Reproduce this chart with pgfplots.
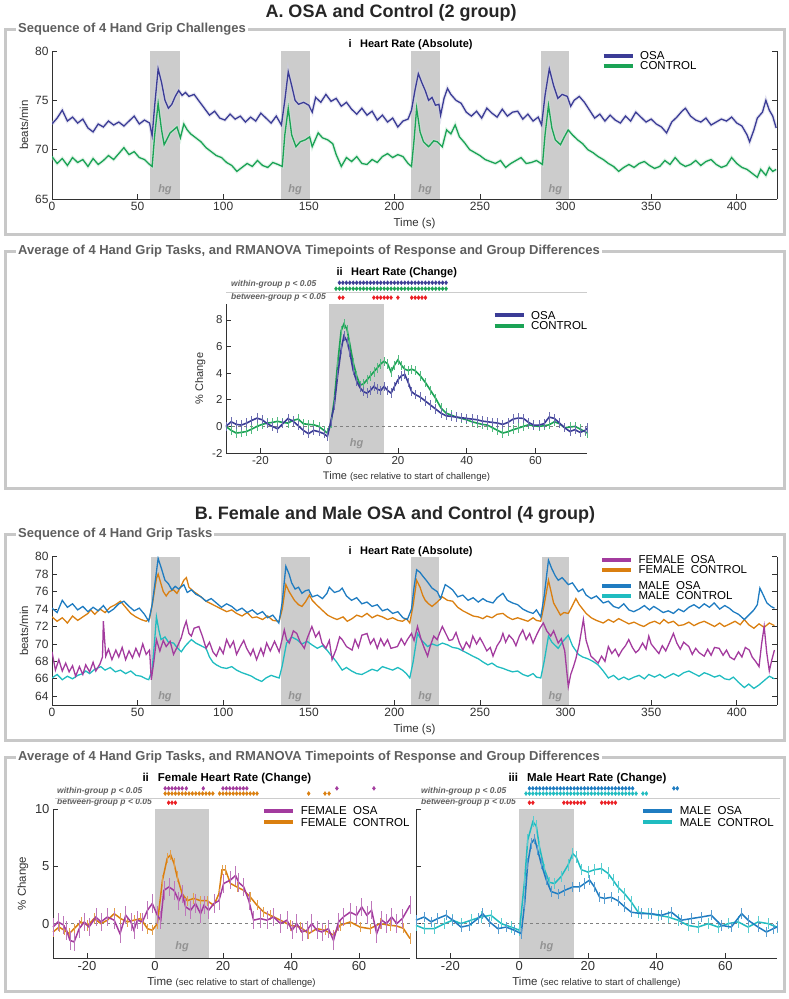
\documentclass[border=0pt]{standalone}
\usepackage{pgfplots}
\pgfplotsset{compat=1.18}
\usepackage{fontspec}
\setmainfont{Liberation Sans}
\definecolor{osa}{RGB}{59,60,150}
\definecolor{ctl}{RGB}{27,163,85}
\definecolor{fosa}{RGB}{163,59,158}
\definecolor{fctl}{RGB}{218,127,16}
\definecolor{mosa}{RGB}{31,124,193}
\definecolor{mctl}{RGB}{32,188,192}
\definecolor{sig}{RGB}{235,30,35}
\definecolor{framec}{RGB}{200,200,200}
\definecolor{hgbox}{RGB}{204,204,204}
\definecolor{axisc}{RGB}{50,50,50}
\definecolor{boxlab}{RGB}{95,95,95}
\tikzset{hgtxt/.style={font=\fontsize{11}{12}\selectfont\bfseries\itshape, text=gray!85}}
\pgfplotsset{
  base/.style={
    scale only axis, anchor=south west,
    axis line style={axisc, line width=0.8pt, -},
    tick style={axisc, line width=0.8pt},
    tick align=inside,
    major tick length=5pt,
    ticklabel style={text=axisc},
    /pgf/number format/assume math mode=true,
    legend cell align=left,
    legend style={draw=none, fill=none, inner sep=0pt, row sep=0pt, column sep=5pt, nodes={inner sep=0.5pt, text height=8.5pt, text depth=0.5pt}, font=\fontsize{11.5}{12}\selectfont},
    legend image code/.code={\draw[##1, line width=4pt] (0pt,0pt) -- (29pt,0pt);},
    label style={text=axisc},
  },
  abs/.style={base,
    width=725pt, height=148pt, xmin=0, xmax=423.5,
    axis x line*=bottom, axis y line*=box,
    xtick={0,50,...,400},
    ticklabel style={font=\fontsize{12}{13}\selectfont},
    xlabel={Time (s)}, ylabel={beats/min},
    label style={font=\fontsize{11.5}{12}\selectfont},
  },
  chg/.style={base, clip=false,
    xmin=-30, xmax=75,
    axis x line*=bottom, axis y line*=left,
    xtick={-20,0,20,40,60},
    xlabel={Time {\fontsize{9.5}{10}\selectfont(sec relative to start of challenge)}},
  },
  sigmk/.style={only marks, mark=diamond*, mark size=2pt, forget plot},
}
\begin{document}
\begin{tikzpicture}
\useasboundingbox (0,0) rectangle (789pt,-999pt);
% ---------- titles and frames ----------
\node[font=\fontsize{18}{20}\selectfont\bfseries, text=black!85] at (391pt,-13pt) {A. OSA and Control (2 group)};
\node[font=\fontsize{18}{20}\selectfont\bfseries, text=black!85] at (395pt,-515pt) {B. Female and Male OSA and Control (4 group)};
\draw[framec, line width=3pt] (5pt,-29pt) rectangle (784pt,-234pt);
\draw[framec, line width=3pt] (5pt,-251pt) rectangle (784pt,-488pt);
\draw[framec, line width=3pt] (5pt,-534pt) rectangle (784pt,-740pt);
\draw[framec, line width=3pt] (5pt,-757pt) rectangle (784pt,-991pt);
\node[anchor=west, fill=white, inner sep=2pt, font=\fontsize{13}{14}\selectfont\bfseries, text=boxlab] at (16pt,-29pt) {Sequence of 4 Hand Grip Challenges};
\node[anchor=west, fill=white, inner sep=2pt, font=\fontsize{13}{14}\selectfont\bfseries, text=boxlab] at (16pt,-251pt) {Average of 4 Hand Grip Tasks, and RMANOVA Timepoints of Response and Group Differences};
\node[anchor=west, fill=white, inner sep=2pt, font=\fontsize{13}{14}\selectfont\bfseries, text=boxlab] at (16pt,-534pt) {Sequence of 4 Hand Grip Tasks};
\node[anchor=west, fill=white, inner sep=2pt, font=\fontsize{13}{14}\selectfont\bfseries, text=boxlab] at (16pt,-757pt) {Average of 4 Hand Grip Tasks, and RMANOVA Timepoints of Response and Group Differences};
% subplot titles
\node[anchor=west, font=\fontsize{11}{12}\selectfont\bfseries] at (345pt,-45pt) {i\,\,\, Heart Rate (Absolute)};
\node[anchor=west, font=\fontsize{11}{12}\selectfont\bfseries] at (333pt,-273pt) {ii\,\,\, Heart Rate (Change)};
\node[anchor=west, font=\fontsize{11}{12}\selectfont\bfseries] at (345pt,-552pt) {i\,\,\, Heart Rate (Absolute)};
\node[anchor=west, font=\fontsize{11.5}{12}\selectfont\bfseries] at (139pt,-779pt) {ii\,\,\, Female Heart Rate (Change)};
\node[anchor=west, font=\fontsize{11.5}{12}\selectfont\bfseries] at (505pt,-779pt) {iii\,\,\, Male Heart Rate (Change)};
% significance labels
\foreach \xx/\yy/\tt in {231/284.3/within, 231/297.7/between, 57/791/within, 57/802.7/between, 421/791/within, 421/802.7/between}{
  \node[anchor=west, font=\fontsize{8.5}{9}\selectfont\bfseries\itshape, text=boxlab, inner sep=0pt] at (\xx pt,-\yy pt) {\tt-group p < 0.05};
}
\draw[gray!40, line width=0.7pt] (226pt,-292.3pt) -- (587pt,-292.3pt);
\draw[gray!40, line width=0.7pt] (55pt,-798pt) -- (780pt,-798pt);

% ================= A-i =================
\begin{axis}[abs, at={(52pt,-199pt)}, ymin=65, ymax=80, ytick={65,70,75,80},
  legend style={at={(axis cs:321,80.05)}, anchor=north west}]
\addplot[fill=hgbox, draw=none, forget plot] coordinates {(57.5,65)(74.5,65)(74.5,80)(57.5,80)} -- cycle;
\addplot[fill=hgbox, draw=none, forget plot] coordinates {(133.5,65)(150.5,65)(150.5,80)(133.5,80)} -- cycle;
\addplot[fill=hgbox, draw=none, forget plot] coordinates {(209.5,65)(226.5,65)(226.5,80)(209.5,80)} -- cycle;
\addplot[fill=hgbox, draw=none, forget plot] coordinates {(285.5,65)(302,65)(302,80)(285.5,80)} -- cycle;
\node[hgtxt] at (axis cs:66,65.9) {hg};
\node[hgtxt] at (axis cs:142,65.9) {hg};
\node[hgtxt] at (axis cs:218,65.9) {hg};
\node[hgtxt] at (axis cs:294,65.9) {hg};
\addplot[osa, line width=1.3pt, forget plot, preaction={draw=osa!25, line width=3.5pt, opacity=0.5}] coordinates {
(0,72.6)(3,73.2)(6,74.0)(9,72.9)(12,73.3)(15,72.7)(18,73.1)(21,72.2)(24,71.8)(27,72.6)(30,72.3)(33,72.9)(36,72.5)(39,72.8)(42,72.4)(45,72.9)(48,73.4)(51,72.6)(54,73.0)(57,72.7)(58.5,71.4)(60,74.5)(62,78.2)(64,76.8)(66,75.0)(68,74.2)(70,74.6)(72,75.4)(74,76.0)(76,75.5)(78,75.8)(80,75.4)(83,75.6)(86,74.9)(89,74.2)(92,73.5)(95,73.9)(98,73.2)(101,73.0)(104,73.6)(107,73.1)(110,73.4)(113,72.8)(116,73.3)(119,72.9)(122,73.7)(125,73.2)(128,72.7)(131,73.4)(134,72.5)(136,75.0)(138,77.9)(140,76.5)(142,75.0)(144,74.6)(147,74.8)(150,74.5)(152,73.8)(154,75.3)(157,74.8)(160,75.6)(163,74.9)(166,75.2)(169,74.4)(172,74.8)(175,74.1)(178,73.6)(181,74.2)(184,73.5)(187,73.9)(190,73.0)(193,73.5)(196,72.8)(199,73.2)(202,72.3)(205,72.9)(208,73.1)(210,74.0)(212,76.0)(214,77.7)(216,76.8)(218,76.0)(220,75.0)(222,75.3)(224,74.5)(226,74.6)(227,73.5)(229,75.2)(231,76.2)(233,75.6)(236,75.0)(239,74.7)(242,73.8)(245,73.4)(248,73.9)(251,73.2)(254,74.2)(257,73.7)(260,73.3)(263,74.1)(266,73.4)(269,73.8)(272,73.9)(275,73.1)(278,73.6)(281,72.9)(284,73.3)(286,72.5)(288,75.5)(290.5,78.2)(293,76.5)(295.5,75.2)(298,75.6)(301,75.4)(303,74.4)(305,75.0)(308,75.4)(311,74.8)(314,74.0)(317,73.2)(320,73.6)(323,72.9)(326,73.5)(329,73.0)(332,72.7)(335,73.4)(338,72.9)(341,73.8)(344,73.3)(347,72.8)(350,73.1)(353,72.6)(356,72.3)(359,71.7)(362,72.8)(365,73.3)(368,73.9)(370,74.2)(373,73.4)(376,73.0)(379,72.8)(382,73.2)(385,72.5)(388,72.8)(391,73.1)(394,72.9)(397,73.3)(400,72.7)(403,72.4)(406,71.5)(407.5,70.8)(410,72.0)(412,73.2)(415,73.8)(417,75.0)(419,74.0)(421,73.4)(423,72.2)};
\addplot[ctl, line width=1.3pt, forget plot, preaction={draw=ctl!25, line width=3.5pt, opacity=0.5}] coordinates {
(0,69.3)(3,68.6)(6,69.1)(9,68.4)(12,69.2)(15,68.7)(18,69.0)(21,68.3)(24,69.1)(27,68.5)(30,68.9)(33,69.4)(36,69.0)(39,69.6)(42,70.2)(45,69.5)(48,69.8)(51,69.2)(54,69.0)(57,68.5)(58.5,68.3)(60,71.5)(62,74.7)(64,72.0)(65.5,70.5)(67,71.0)(69,71.7)(71,72.0)(73,72.3)(75,71.2)(77,72.6)(79,72.0)(81,71.6)(84,71.2)(87,70.8)(90,70.2)(93,69.8)(96,69.4)(99,69.2)(102,68.7)(105,68.4)(108,67.8)(111,68.2)(114,68.6)(117,68.3)(120,68.9)(123,68.4)(126,68.2)(129,68.7)(132,68.5)(134.5,68.3)(136,71.5)(138,74.2)(140,71.5)(142.5,70.3)(145,70.8)(148,71.0)(150.5,71.3)(152,70.3)(155.5,71.7)(158,71.2)(161,71.0)(164,70.6)(166,69.5)(169,68.3)(172,69.2)(175,68.8)(178,69.3)(181,68.6)(184,68.5)(187,69.0)(190,68.7)(193,69.3)(196,69.6)(199,69.2)(202,69.5)(205,69.3)(208,68.6)(210,68.3)(211.5,71.0)(213,74.2)(215,71.8)(217,70.8)(220,70.3)(223,70.9)(225,70.8)(228,70.3)(230.5,72.0)(233,71.6)(235.5,72.5)(238,71.3)(241,70.7)(244,70.0)(247,69.7)(250,69.4)(253,69.0)(256,68.8)(259,68.6)(262,68.9)(265,68.2)(268,68.6)(271,68.9)(274,69.2)(277,68.6)(280,68.7)(283,68.9)(286.5,68.5)(288,71.5)(290,74.5)(292,72.2)(294,71.0)(297,70.5)(299,71.2)(301.5,72.0)(304,71.5)(307,71.0)(310,70.6)(313,70.0)(316,69.7)(319,69.3)(322,69.0)(325,68.6)(328,68.3)(331,67.8)(334,68.2)(337,68.5)(340,68.2)(343,68.6)(346,68.8)(349,68.4)(352,68.1)(355,68.3)(358,68.9)(361,68.5)(364,69.2)(367,68.6)(370,68.3)(373,68.5)(376,68.9)(379,68.4)(382,68.8)(385,69.0)(388,68.5)(391,68.2)(394,68.4)(397,69.2)(400,68.6)(403,68.2)(406,68.0)(409,67.6)(412,67.2)(414,68.0)(417,67.4)(419,68.2)(421,67.8)(423,68.0)};
\addlegendimage{osa}\addlegendentry{OSA}
\addlegendimage{ctl}\addlegendentry{CONTROL}
\end{axis}

% ================= A-ii =================
\begin{axis}[chg, at={(226pt,-453pt)}, width=361pt, height=149pt, ymin=-2, ymax=9.2,
  ytick={-2,0,...,8}, ylabel={\% Change},
  ticklabel style={font=\fontsize{11.5}{12}\selectfont},
  label style={font=\fontsize{11}{12}\selectfont},
  legend style={at={(axis cs:47.5,8.75)}, anchor=north west, row sep=0.7pt}]
\addplot[fill=hgbox, draw=none, forget plot] coordinates {(0,-2)(16,-2)(16,9.2)(0,9.2)} -- cycle;
\node[hgtxt] at (axis cs:8,-1.27) {hg};
\addplot[gray, dashed, line width=0.6pt, forget plot] coordinates {(-30,0)(75,0)};
\addplot[ctl, line width=1.6pt, forget plot, error bars/.cd, y dir=both, y fixed=0.35, error mark=none, error bar style={line width=0.6pt, ctl!75}] coordinates {
(-30,0.0)(-28.5,-0.3)(-27,-0.5)(-25.5,-0.45)(-24,-0.38)(-22.5,-0.2)(-21,0.0)(-19.5,0.15)(-18,0.25)(-16.5,0.3)(-15,0.38)(-13.5,0.3)(-12,0.25)(-10.5,0.45)(-9,0.55)(-7.5,0.2)(-6,0.15)(-4.5,0.12)(-3,0.0)(-1.5,-0.3)(-0.5,-0.5)(0.5,0.2)(1.5,2.0)(2.5,4.8)(3.5,7.2)(4.3,7.7)(5.2,7.3)(6,6.2)(7,4.8)(8,3.8)(9,3.1)(10,3.2)(11,3.5)(12,3.8)(13,4.1)(14,4.4)(15,4.7)(16,4.9)(17,4.7)(18,4.1)(19,4.6)(20,5.0)(21,4.6)(22,4.3)(23,4.2)(24,4.3)(25,4.2)(26.5,3.8)(28,3.3)(29.5,2.7)(31,2.1)(32.5,1.4)(34,1.0)(35.5,0.85)(37,0.7)(38.5,0.6)(40,0.5)(41.5,0.35)(43,0.25)(44.5,0.15)(46,0.1)(47.5,-0.1)(49,-0.3)(50.5,-0.5)(52,-0.4)(53.5,-0.25)(55,-0.13)(56.5,0.0)(58,0.12)(59.5,0.05)(61,0.0)(62.5,0.05)(64,0.12)(65.5,0.35)(67,0.2)(68.5,-0.1)(70,-0.05)(71.5,0.0)(73,-0.2)(74.5,-0.4)(75,-0.5)};
\addplot[osa, line width=1.6pt, forget plot, error bars/.cd, y dir=both, y fixed=0.35, error mark=none, error bar style={line width=0.6pt, osa!75}] coordinates {
(-30,0.0)(-28.5,0.35)(-27,0.15)(-25.5,0.1)(-24,0.25)(-22.5,0.45)(-21,0.62)(-19.5,0.5)(-18,0.2)(-16.5,0.0)(-15,-0.18)(-13.5,0.2)(-12,0.58)(-10.5,0.4)(-9,0.05)(-7.5,-0.3)(-6,-0.55)(-4.5,-0.3)(-3,-0.4)(-1.5,-0.55)(-0.5,-0.76)(0.5,0.38)(1.5,1.6)(2.5,3.9)(3.5,5.8)(4.3,6.8)(5.2,6.4)(6,5.6)(7,4.2)(8,3.4)(9,2.9)(10,2.6)(11,2.5)(12,2.7)(13,3.0)(14,2.8)(15,2.7)(16,3.0)(17,2.7)(18,2.5)(19,3.0)(20,3.5)(21,3.8)(22,3.9)(23,3.3)(24,2.6)(25,2.4)(26.5,2.2)(28,1.9)(29.5,1.6)(31,1.3)(32.5,1.0)(34,0.8)(35.5,0.75)(37,0.7)(38.5,0.65)(40,0.6)(41.5,0.55)(43,0.5)(44.5,0.4)(46,0.35)(47.5,0.3)(49,0.25)(50.5,0.15)(52,0.3)(53.5,0.55)(55,0.63)(56.5,0.6)(58,0.3)(59.5,0.1)(61,0.1)(62.5,0.2)(64,0.7)(65.5,0.6)(67,0.25)(68.5,-0.1)(70,-0.38)(71.5,-0.25)(73,-0.45)(74.5,-0.3)(75,-0.13)};
% significance rows
\addplot[sigmk, osa] coordinates {(3,10.8)(4,10.8)(5,10.8)(6,10.8)(7,10.8)(8,10.8)(9,10.8)(10,10.8)(11,10.8)(12,10.8)(13,10.8)(14,10.8)(15,10.8)(16,10.8)(17,10.8)(18,10.8)(19,10.8)(20,10.8)(21,10.8)(22,10.8)(23,10.8)(24,10.8)(25,10.8)(26,10.8)(27,10.8)(28,10.8)(29,10.8)(30,10.8)(31,10.8)(32,10.8)(33,10.8)(34,10.8)};
\addplot[sigmk, ctl] coordinates {(2,10.35)(3,10.35)(4,10.35)(5,10.35)(6,10.35)(7,10.35)(8,10.35)(9,10.35)(10,10.35)(11,10.35)(12,10.35)(13,10.35)(14,10.35)(15,10.35)(16,10.35)(17,10.35)(18,10.35)(19,10.35)(20,10.35)(21,10.35)(22,10.35)(23,10.35)(24,10.35)(25,10.35)(26,10.35)(27,10.35)(28,10.35)(29,10.35)(30,10.35)(31,10.35)(32,10.35)(33,10.35)(34,10.35)};
\addplot[sigmk, sig] coordinates {(3,9.68)(4,9.68)(13,9.68)(14,9.68)(15,9.68)(16,9.68)(17,9.68)(18,9.68)(20,9.68)(24,9.68)(25,9.68)(26,9.68)(27,9.68)(28,9.68)};
\addlegendimage{osa}\addlegendentry{OSA}
\addlegendimage{ctl}\addlegendentry{CONTROL}
\end{axis}

% ================= B-i =================
\begin{axis}[abs, at={(52pt,-705pt)}, height=148.3pt, ymin=63, ymax=80, ytick={64,66,...,80},
  legend style={at={(axis cs:320,80.25)}, anchor=north west}]
\addplot[fill=hgbox, draw=none, forget plot] coordinates {(58,63)(74.6,63)(74.6,80)(58,80)} -- cycle;
\addplot[fill=hgbox, draw=none, forget plot] coordinates {(133.6,63)(150.9,63)(150.9,80)(133.6,80)} -- cycle;
\addplot[fill=hgbox, draw=none, forget plot] coordinates {(209.7,63)(226.2,63)(226.2,80)(209.7,80)} -- cycle;
\addplot[fill=hgbox, draw=none, forget plot] coordinates {(286,63)(302.2,63)(302.2,80)(286,80)} -- cycle;
\node[hgtxt] at (axis cs:66,64.0) {hg};
\node[hgtxt] at (axis cs:142,64.0) {hg};
\node[hgtxt] at (axis cs:218,64.0) {hg};
\node[hgtxt] at (axis cs:294,64.0) {hg};
\addplot[mctl, line width=1.3pt, forget plot] coordinates {
(0,66.1)(3,66.5)(6,65.9)(9,66.3)(12,66.0)(15,66.4)(18,66.6)(19.7,66.9)(22,66.6)(25,67.1)(28.5,67.4)(31,67.0)(34,67.3)(37,66.8)(40,67.0)(43,66.6)(46,66.9)(49,66.4)(52,66.3)(55,66.0)(56.5,65.9)(58.5,67.0)(60,70.5)(61,73.1)(62.5,71.5)(63.7,70.5)(66,70.8)(68,70.2)(71,70.1)(73,69.6)(75.5,69.1)(78,69.8)(81.4,70.5)(84,70.1)(87,69.8)(90,69.5)(92,68.5)(94,67.9)(96,67.6)(99,67.3)(102,67.2)(105,67.4)(107.8,67.0)(111,66.7)(114,66.5)(116.6,66.3)(119,66.0)(122.5,65.7)(125,66.1)(128,66.4)(131,66.2)(132.7,66.1)(134.5,67.5)(137,70.1)(140,70.8)(143,70.5)(146,70.0)(149,70.3)(151.8,69.9)(155,69.5)(158,69.8)(160.6,69.3)(163,68.7)(166,68.0)(169.5,67.0)(172,67.3)(175,66.9)(178,66.6)(181,66.5)(184,66.8)(187,67.1)(190,66.9)(193,67.4)(196,67.2)(199,67.0)(202,67.3)(204.7,67.0)(207,66.6)(209,66.1)(211,68.0)(213.5,71.2)(216,70.4)(219.4,69.7)(222,70.0)(225,69.8)(228,70.1)(231,69.9)(234,69.6)(237,69.5)(240,69.2)(243,68.9)(245.8,68.6)(249,68.3)(252,67.9)(254.6,67.6)(257,67.8)(260,67.4)(263.4,67.2)(266,67.0)(269,66.8)(272,66.9)(275,66.5)(278,66.3)(281,66.6)(283,66.2)(285.5,66.1)(287.5,68.0)(290,70.9)(292,70.2)(295.7,69.5)(298,70.2)(301.6,71.0)(304,69.8)(307.5,68.8)(310,68.5)(313,68.3)(316,68.0)(319,67.6)(322,66.9)(325,66.1)(328,66.4)(331,65.9)(334,66.2)(336.9,65.9)(340,66.2)(343,66.4)(346,66.0)(348.6,66.5)(352,66.2)(355,66.5)(358,66.1)(360,66.3)(363,66.6)(366,66.3)(369,66.7)(372,66.9)(375,66.6)(378,66.3)(381,66.7)(383.8,66.5)(387,66.2)(390,66.4)(393,66.0)(395.6,65.9)(398,66.2)(401,65.6)(404.4,65.0)(407,65.4)(410,64.9)(413,65.3)(416,65.8)(419,66.3)(422,66.0)};
\addplot[fctl, line width=1.3pt, forget plot] coordinates {
(0,73.1)(3,72.6)(6,73.0)(9,72.4)(12,73.2)(15,72.7)(18,73.1)(21,73.5)(22.6,73.9)(25,73.4)(28,74.0)(31,73.6)(34,74.2)(37,74.5)(40,74.9)(43,74.2)(46,73.5)(49,73.1)(52,72.8)(55,72.6)(57,72.9)(59,75.0)(61,77.5)(62,78.0)(63.5,77.0)(65,76.0)(66.7,75.5)(68.5,76.0)(71,76.2)(73,75.8)(75,76.5)(77,77.3)(78.5,77.6)(80,76.5)(82.8,76.0)(85,75.7)(87,75.4)(90,74.9)(93,74.6)(96,74.3)(99,74.0)(102,73.7)(105,73.9)(107.8,73.5)(111,73.2)(114,73.6)(117,73.0)(119.5,73.1)(123,72.8)(126,73.2)(129,72.7)(132.7,72.6)(134.5,74.0)(136.6,76.8)(138.5,76.0)(141.6,75.0)(144,74.5)(146,74.3)(148,74.8)(150.4,75.6)(152,75.0)(155,74.4)(157.7,73.9)(161,73.3)(164,73.0)(166.5,72.8)(170,73.1)(172.5,72.6)(175.3,72.9)(178,73.3)(181,73.1)(184,73.5)(187,73.0)(190,73.3)(193,73.1)(196,72.8)(199,73.0)(202,72.7)(204.7,72.6)(207,72.9)(209,72.4)(211,74.5)(213,77.3)(215,76.5)(216.5,75.6)(218,75.0)(220,74.6)(222,74.3)(225,74.8)(228,75.4)(231,75.0)(234,74.9)(237,74.2)(240,73.8)(243,73.5)(246,73.2)(249,73.1)(251.7,72.9)(254,73.2)(257,73.0)(260,73.4)(263.4,73.5)(266,73.1)(269,72.8)(272,73.0)(275,72.8)(278,72.6)(281,73.0)(283,72.7)(285.5,72.6)(287.5,74.5)(290,77.3)(291.5,76.0)(293,74.7)(295,74.0)(297,73.3)(299,73.6)(301.6,73.5)(303.5,74.2)(306,75.2)(308,74.5)(310,74.0)(312,73.5)(315,73.0)(318,72.7)(322,72.4)(325,72.8)(328,72.5)(331,72.9)(334,72.6)(337,72.3)(340,72.5)(343,72.2)(345.7,72.0)(349,72.4)(352,72.6)(355,72.3)(357.4,72.8)(360,72.4)(363,72.6)(366,72.1)(369,72.2)(372,72.5)(375,72.1)(378,72.4)(381,72.6)(384,72.3)(387,72.0)(390,72.4)(392.7,72.0)(396,72.3)(399,72.6)(402,72.2)(404.4,72.8)(407,72.2)(410,71.8)(413,72.3)(416,71.9)(419,72.4)(422,72.1)};
\addplot[mosa, line width=1.3pt, forget plot] coordinates {
(0,74.1)(3,73.6)(6,75.0)(9,74.2)(12,74.6)(15,73.9)(18,74.3)(21,73.7)(24,74.2)(27,73.8)(30,74.4)(33,73.6)(36,74.0)(39,74.6)(42,74.9)(45,74.3)(48,73.8)(51,74.1)(54,73.4)(56.5,72.6)(58.5,74.5)(60.5,77.5)(62,79.8)(64,78.6)(66,77.3)(68,76.9)(70,76.2)(72,76.6)(74,76.3)(77,76.8)(79,75.9)(81.5,76.2)(84,75.7)(87,75.4)(90,74.9)(93,75.2)(96,74.7)(99,74.2)(102,74.6)(105,74.3)(108,73.8)(111,74.1)(114,73.6)(117,73.9)(120,73.4)(123,73.7)(126,73.0)(129,73.3)(132.5,72.4)(134.5,74.8)(136.6,78.9)(138.5,78.0)(140,77.0)(142,76.3)(144,76.5)(146,75.8)(148,76.1)(150,76.2)(152,75.4)(155,75.6)(158,75.2)(160.6,75.8)(162,76.5)(165,75.9)(168,76.1)(169.5,76.4)(172,75.5)(175,75.0)(178,75.3)(181,74.6)(184,74.8)(187,74.3)(190,74.5)(193,73.8)(196,74.0)(199,73.5)(202,73.7)(205,73.0)(207.6,72.8)(210,74.0)(211.5,76.5)(213,78.5)(215,78.2)(216.5,77.8)(219,77.2)(222,76.4)(225,76.0)(227,75.2)(229.7,76.8)(232,76.5)(234,76.2)(237,75.4)(240,75.6)(243,75.0)(246,75.3)(249,74.8)(251.7,75.2)(254,74.9)(257.6,74.7)(260,75.3)(263.4,75.8)(266,75.0)(269,74.7)(272,74.5)(275,74.0)(278,73.7)(281,73.5)(283,73.9)(285.5,73.1)(287.5,75.5)(290,79.6)(292,78.6)(294,77.8)(295.7,77.3)(298,77.6)(301.6,76.8)(304,77.0)(307.5,76.0)(310,76.3)(312,75.6)(315,75.2)(318,75.5)(322,74.7)(325,74.9)(328,74.3)(331,74.1)(334,74.6)(337,73.9)(339.8,73.7)(343,74.0)(346,74.4)(349,73.9)(351.5,74.3)(354,74.0)(357,73.6)(360,73.8)(363,73.5)(366,74.0)(369,73.7)(372,74.2)(375,74.5)(378,74.1)(381,74.6)(384,74.2)(386.8,74.7)(390,74.0)(393,74.4)(395.6,74.1)(398,73.7)(401,73.4)(404.4,72.8)(407,73.3)(410,73.9)(412,74.5)(413.5,76.4)(415,75.8)(417.6,74.7)(420,74.3)(422,74.1)};
\addplot[fosa, line width=1.3pt, forget plot] coordinates {
(0,69.1)(2,67.0)(4,68.2)(6,66.9)(8,67.8)(10,66.8)(12,67.5)(13.8,66.3)(16,67.4)(18,66.5)(19.7,67.6)(22,66.8)(24,67.9)(25.6,66.9)(28,67.7)(29.5,68.5)(30,72.6)(31.4,68.6)(33,69.4)(35,68.2)(37.3,69.3)(39,68.5)(41,69.6)(43,68.2)(45,69.2)(47,68.4)(49,69.5)(51,68.6)(53,70.0)(55,68.8)(57,69.3)(58,65.9)(59.5,68.0)(61,70.5)(63,69.2)(65,70.4)(66.7,69.7)(69,70.3)(71,68.8)(73,69.6)(75.5,70.7)(77,71.8)(78.4,72.6)(80,71.2)(81.4,70.9)(83,71.8)(85.8,72.0)(88,70.8)(90,69.5)(92,70.2)(94,69.1)(96,68.6)(98,69.6)(100,68.9)(102,70.5)(104,69.6)(106,70.3)(107.8,68.8)(110,69.7)(112,70.4)(113.7,69.5)(116,68.7)(117.5,69.4)(119.5,68.2)(122,69.5)(123.5,68.7)(125.4,70.1)(127.5,69.2)(130,70.3)(132.7,69.1)(134,70.2)(135.7,71.6)(137,70.5)(138.6,70.1)(141,71.5)(143,71.2)(145,70.2)(147.4,69.5)(149,70.6)(151.8,72.0)(154,70.8)(156,71.4)(157.7,70.1)(160,69.5)(162,70.4)(163.6,68.2)(166,69.4)(168,70.8)(169.5,70.5)(172,69.7)(175.3,69.3)(177,70.5)(179,69.6)(181,71.0)(184,71.2)(186,70.0)(188,70.6)(190,69.5)(192,70.6)(194,69.8)(196,70.5)(198,69.5)(201.8,69.7)(204,70.6)(206,69.9)(207.6,70.5)(210,71.2)(211.5,70.4)(213.5,72.0)(215.5,70.6)(217.5,69.5)(219.4,68.6)(221,69.8)(223,70.9)(225,70.5)(226.5,71.3)(228,72.0)(230,71.2)(232,70.4)(234,70.5)(236,71.3)(238,70.1)(240,69.3)(242,70.2)(244,69.6)(245.8,70.9)(248,70.0)(250,70.7)(251.7,70.1)(254,69.2)(256,69.6)(257.6,68.6)(260,69.8)(262,70.4)(263.4,71.2)(265,70.2)(267,71.0)(269.3,70.5)(271,69.8)(273,70.9)(275,71.6)(277,70.5)(279,71.2)(281,70.1)(283,71.0)(285,71.8)(287,72.4)(289,71.5)(291.3,70.9)(293,71.5)(295.7,70.1)(297.5,70.6)(299.5,69.2)(301.6,65.1)(303,66.5)(304.6,67.4)(306,68.3)(308,70.0)(310.4,72.8)(312,70.4)(314.8,68.6)(317,68.2)(319,67.8)(321,68.6)(323,68.0)(325,69.7)(327,68.9)(329,69.4)(331,68.6)(333,69.3)(335,69.8)(336.9,70.5)(339,69.6)(341,69.0)(342.7,69.3)(345,70.1)(347,69.4)(348.6,70.9)(350,70.0)(352,69.5)(354.5,68.9)(356.5,69.8)(358.5,69.2)(361,70.3)(363,71.2)(365,70.1)(367,69.4)(369,70.2)(372,69.7)(374,68.8)(376,69.5)(378,69.0)(381,68.6)(383,69.4)(385,68.7)(387,69.6)(389.7,69.5)(392,68.7)(394,69.3)(396,68.5)(398.5,68.2)(401,69.1)(403,68.5)(405,69.6)(407.3,69.3)(409,68.5)(411,68.0)(413,67.4)(414.5,70.0)(416,72.0)(417.5,69.0)(419,66.9)(420.5,68.2)(422,69.3)};
\addlegendimage{fosa}\addlegendentry{FEMALE\ \ OSA}
\addlegendimage{fctl}\addlegendentry{FEMALE\ \ CONTROL}
\end{axis}
% second legend block of B-i (male rows, set apart as in the reference)
\begin{axis}[abs, at={(52pt,-705pt)}, height=148.3pt, ymin=63, ymax=80, hide axis,
  legend style={at={(axis cs:320,77.25)}, anchor=north west}]
\addlegendimage{mosa}\addlegendentry{MALE\ \ OSA}
\addlegendimage{mctl}\addlegendentry{MALE\ \ CONTROL}
\end{axis}

% ================= B-ii female =================
\begin{axis}[chg, at={(53pt,-958pt)}, width=357pt, height=149pt, ymin=-3, ymax=10,
  ytick={0,5,10}, ylabel={\% Change},
  ticklabel style={font=\fontsize{13}{14}\selectfont},
  label style={font=\fontsize{11.5}{12}\selectfont},
  legend style={at={(axis cs:31.5,10.3)}, anchor=north west, row sep=1.3pt}]
\addplot[fill=hgbox, draw=none, forget plot] coordinates {(0,-3)(16,-3)(16,10)(0,10)} -- cycle;
\node[hgtxt] at (axis cs:8,-2.0) {hg};
\addplot[gray, dashed, line width=0.6pt, forget plot] coordinates {(-30,0)(75,0)};
\addplot[fctl, line width=1.5pt, forget plot, error bars/.cd, y dir=both, y fixed=0.45, error mark=none, error bar style={line width=0.6pt, fctl!75}] coordinates {
(-30,-0.73)(-28.2,-0.3)(-26.7,-0.58)(-25.2,-0.87)(-23.8,-0.44)(-21.8,0.15)(-19.8,-0.15)(-17.9,0.44)(-15.9,0.0)(-14,0.3)(-12,0.87)(-10.1,0.44)(-8.1,0.15)(-6.2,0.3)(-4.2,0.44)(-2.2,-0.44)(-0.8,-0.58)(0.7,0.0)(2.2,3.8)(3.6,5.7)(4.6,6.0)(5.6,5.25)(6.5,4.1)(8,2.6)(9.5,2.0)(11.4,2.2)(13.4,2.0)(15.3,2.0)(17.3,1.6)(18.8,2.6)(19.7,4.7)(20.7,4.7)(22.2,3.5)(24.1,3.2)(26.1,2.9)(28.1,2.3)(30,1.6)(32,1.0)(33.9,0.73)(36.9,0.3)(39.8,-0.15)(42.7,-0.3)(45.2,-0.87)(47.6,-0.44)(50,-0.58)(52.5,-1.0)(54.4,-0.15)(57.4,0.15)(60.3,-0.3)(63.2,-0.44)(66.2,0.0)(69.1,-0.15)(71,-0.2)(73,-0.4)(75,-1.3)};
\addplot[fosa, line width=1.5pt, forget plot, error bars/.cd, y dir=both, y fixed=0.8, error mark=none, error bar style={line width=0.6pt, fosa!70}] coordinates {
(-30,-0.3)(-28.5,0.15)(-27,-0.1)(-26,-0.6)(-25,-1.46)(-23.8,-1.6)(-22.3,-0.44)(-20.8,0.15)(-19.4,-0.3)(-17.4,0.58)(-15.9,0.15)(-14,0.58)(-12,0.3)(-10.3,-0.87)(-8.6,0.73)(-7.1,0.15)(-6.2,-0.58)(-5.2,0.3)(-3.7,0.15)(-2.2,1.17)(-0.8,1.75)(0.7,0.73)(1.7,0.3)(2.6,2.9)(4.1,3.2)(5.6,2.9)(7,2.0)(8,2.6)(9,1.46)(10.5,1.17)(11.9,1.75)(13.4,0.87)(14.4,1.6)(15.8,1.17)(17.3,1.75)(18.8,2.0)(20.2,3.5)(22.2,3.8)(23.7,4.2)(24.6,3.6)(26.1,3.2)(27.6,2.0)(29,0.3)(31,0.44)(32.9,0.3)(34.9,0.58)(36.9,0.0)(38.8,0.3)(40.3,-0.58)(41.7,0.0)(43.2,-0.73)(44.7,-0.58)(46.1,0.0)(47.6,-0.58)(49.1,-0.73)(51,-0.44)(52.5,-1.46)(54,0.15)(55.4,0.58)(57.4,1.0)(59.3,0.73)(60.8,1.46)(62.3,0.73)(63.7,1.17)(65.2,-0.87)(66.7,0.3)(68.1,0.0)(69.6,0.58)(71.1,0.0)(72.8,0.46)(75,1.6)};
\addplot[sigmk, fosa] coordinates {(3,11.8)(4,11.8)(5,11.8)(6,11.8)(7,11.8)(8,11.8)(9.2,11.8)(14.2,11.8)(20,11.8)(21,11.8)(22,11.8)(23,11.8)(24,11.8)(25,11.8)(26,11.8)(27,11.8)(53.5,11.8)(64.4,11.8)};
\addplot[sigmk, fctl] coordinates {(3,11.35)(4,11.35)(5,11.35)(6,11.35)(7,11.35)(8,11.35)(9,11.35)(10,11.35)(11,11.35)(12,11.35)(13,11.35)(14,11.35)(15,11.35)(16,11.35)(17,11.35)(19,11.35)(20,11.35)(21,11.35)(22,11.35)(23,11.35)(24,11.35)(25,11.35)(26,11.35)(27,11.35)(28,11.35)(29,11.35)(30,11.35)(45.2,11.35)(50,11.35)(51.2,11.35)};
\addplot[sigmk, sig] coordinates {(4,10.55)(5,10.55)(6,10.55)};
\addlegendimage{fosa}\addlegendentry{FEMALE\ \ OSA}
\addlegendimage{fctl}\addlegendentry{FEMALE\ \ CONTROL}
\end{axis}

% ================= B-iii male =================
\begin{axis}[chg, at={(416pt,-958pt)}, width=361pt, height=149pt, ymin=-3, ymax=10,
  ytick={0,5,10}, yticklabels={},
  ticklabel style={font=\fontsize{13}{14}\selectfont},
  label style={font=\fontsize{11.5}{12}\selectfont},
  legend style={at={(axis cs:35.5,10.3)}, anchor=north west, row sep=1.3pt}]
\addplot[fill=hgbox, draw=none, forget plot] coordinates {(0,-3)(16,-3)(16,10)(0,10)} -- cycle;
\node[hgtxt] at (axis cs:8,-2.0) {hg};
\addplot[gray, dashed, line width=0.6pt, forget plot] coordinates {(-30,0)(75,0)};
\addplot[mctl, line width=1.5pt, forget plot, error bars/.cd, y dir=both, y fixed=0.5, error mark=none, error bar style={line width=0.6pt, mctl!75}] coordinates {
(-30,-0.15)(-27.6,-0.44)(-24.7,-0.44)(-21.7,0.0)(-19.3,0.3)(-16.9,0.0)(-14,0.3)(-11.1,0.58)(-8.2,0.73)(-5.2,0.0)(-2.3,-0.3)(0.1,-0.58)(1.6,3.8)(2.5,7.3)(4,8.9)(5,8.5)(5.9,6.7)(7.4,4.7)(8.8,3.6)(10.3,3.5)(12.2,4.1)(14.2,5.1)(15.6,6.1)(16.6,5.8)(18.1,4.7)(20,4.5)(21.9,4.7)(23.9,4.8)(25.8,4.4)(27.3,3.8)(28.7,3.2)(30.7,2.6)(32.6,1.9)(34.6,1.0)(37.5,0.87)(40.4,0.73)(43.3,0.58)(46.2,0.3)(49.1,-0.15)(52,-0.3)(55,0.0)(57.9,-0.3)(60.8,0.0)(63.7,0.15)(66.6,-0.3)(69.5,0.15)(72.4,0.0)(75,-0.3)};
\addplot[mosa, line width=1.5pt, forget plot, error bars/.cd, y dir=both, y fixed=0.45, error mark=none, error bar style={line width=0.6pt, mosa!75}] coordinates {
(-30,0.3)(-27.6,0.58)(-25.6,0.15)(-23.7,0.44)(-21.3,0.73)(-19.3,0.3)(-16.9,-0.3)(-14.5,-0.15)(-12,0.44)(-10.6,0.87)(-8.6,0.15)(-6.2,-0.44)(-3.8,-0.3)(-1.4,-0.58)(0.6,-0.87)(1.6,1.75)(2.5,5.25)(3.5,7.0)(4.5,7.4)(5.4,6.4)(6.4,5.25)(7.9,3.8)(9.3,2.8)(11.3,2.6)(13.2,2.9)(15.6,3.2)(17.6,3.2)(19,3.5)(20.5,3.8)(21.9,3.2)(23.4,2.3)(24.9,2.2)(26.8,2.3)(28.7,2.0)(30.7,1.46)(32.6,1.0)(35.5,0.87)(38.4,0.87)(41.4,0.73)(44.3,1.0)(47.2,0.3)(50.1,0.44)(53,0.58)(55.9,0.73)(58.8,-0.15)(61.7,-0.3)(64.7,0.87)(66.6,0.3)(69.5,-0.3)(71.9,-0.73)(73.9,-0.44)(75,-0.3)};
\addplot[sigmk, mosa] coordinates {(3,11.8)(4,11.8)(5,11.8)(6,11.8)(7,11.8)(8,11.8)(9,11.8)(10,11.8)(11,11.8)(12,11.8)(13,11.8)(14,11.8)(15,11.8)(16,11.8)(17,11.8)(18,11.8)(19,11.8)(20,11.8)(21,11.8)(22,11.8)(23,11.8)(24,11.8)(25,11.8)(26,11.8)(27,11.8)(28,11.8)(29,11.8)(30,11.8)(31,11.8)(32,11.8)(33,11.8)(45,11.8)(46,11.8)};
\addplot[sigmk, mctl] coordinates {(2,11.35)(3,11.35)(4,11.35)(5,11.35)(6,11.35)(7,11.35)(8,11.35)(9,11.35)(10,11.35)(11,11.35)(12,11.35)(13,11.35)(14,11.35)(15,11.35)(16,11.35)(17,11.35)(18,11.35)(19,11.35)(20,11.35)(21,11.35)(22,11.35)(23,11.35)(24,11.35)(25,11.35)(26,11.35)(27,11.35)(28,11.35)(29,11.35)(30,11.35)(31,11.35)(32,11.35)(33,11.35)(34,11.35)(36,11.35)(37,11.35)};
\addplot[sigmk, sig] coordinates {(3,10.55)(4,10.55)(13,10.55)(14,10.55)(15,10.55)(16,10.55)(17,10.55)(18,10.55)(19,10.55)(24,10.55)(25,10.55)(26,10.55)(27,10.55)(28,10.55)};
\addlegendimage{mosa}\addlegendentry{MALE\ \ OSA}
\addlegendimage{mctl}\addlegendentry{MALE\ \ CONTROL}
\end{axis}
\end{tikzpicture}
\end{document}
